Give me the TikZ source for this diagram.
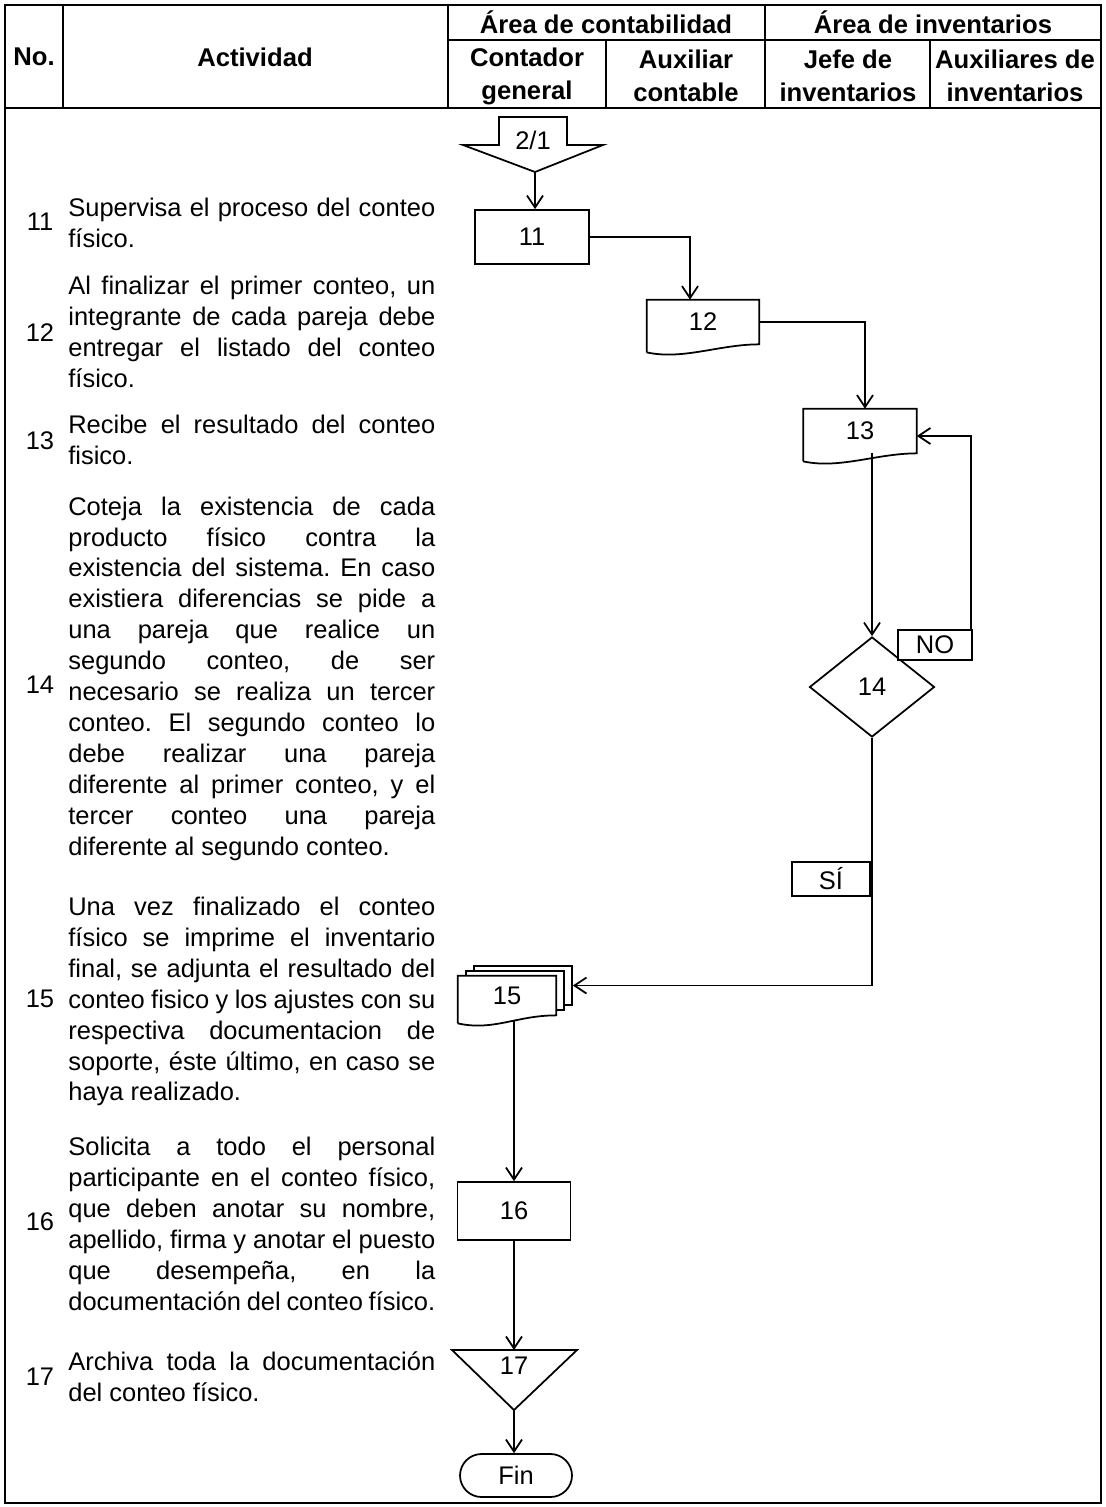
\documentclass[tikz,border=0pt]{standalone}
\usepackage{fontspec}
\setmainfont{Liberation Sans}
\usepackage{tikz}
\usetikzlibrary{arrows.meta, calc, positioning, shapes.geometric}

\newcommand{\cuerpo}{\fontsize{14.5}{17.6}\selectfont\frenchspacing\hyphenpenalty=10000\exhyphenpenalty=10000}
\newcommand{\encab}{\fontsize{14.6}{18.7}\selectfont\bfseries}
% borde de documento con fondo ondulado
\newcommand{\hoja}[1]{\draw[linea] ([yshift=-0.16cm]#1.south west) -- (#1.north west) -- (#1.north east) -- (#1.south east) .. controls +(-40,0) and +(36,8) .. ([yshift=-0.16cm]#1.south west);}

\tikzset{
  linea/.style={line width=1pt},
  flecha/.style={linea, -{Straight Barb[length=2.4mm, width=3.2mm]}},
  caja/.style={draw, linea, minimum width=2.26cm, minimum height=1.1cm, inner sep=0pt, font=\cuerpo},
  doc/.style={minimum width=2.24cm, minimum height=0.88cm, inner sep=0pt, font=\cuerpo},
  etiq/.style={draw, linea, fill=white, inner sep=0pt, font=\cuerpo},
  enc/.style={font=\encab, align=center},
  num/.style={font=\cuerpo},
  desc/.style={font=\cuerpo, text width=7.34cm, align=justify, anchor=west, inner sep=0pt},
}

\begin{document}
\begin{tikzpicture}[x=0.02cm, y=-0.02cm]
\useasboundingbox (0,0) rectangle (1105,1507);

% Marco y encabezado
\draw[line width=1.5pt] (5,5) rectangle (1101,1503);
\draw[linea] (5,108) -- (1101,108);
\draw[linea] (448,40) -- (1101,40);
\draw[linea] (63,5) -- (63,108);
\draw[linea] (448,5) -- (448,108);
\draw[linea] (765,5) -- (765,108);
\draw[linea] (606,40) -- (606,108);
\draw[linea] (930,40) -- (930,108);

\node[enc] (hno) at (34,57) {No.};
\node[enc] (hact) at (255,57) {Actividad};
\node[enc] (hcont) at (606,22) {Área de contabilidad};
\node[enc] (hinv) at (933,22) {Área de inventarios};
\node[enc] (hcg) at (527,76) {Contador\\general};
\node[enc] (hac) at (686,76) {Auxiliar\\contable};
\node[enc] (hji) at (848,76) {Jefe de\\inventarios};
\node[enc] (hai) at (1015,76) {Auxiliares de\\inventarios};

% Actividades
\node[num] (d11n) at (40,222) {11};
\node[desc] (d11) at (68,226) {\strut Supervisa el proceso del conteo\linebreak físico.\strut};
\node[num] (d12n) at (40,333) {12};
\node[desc] (d12) at (68,335) {\strut Al finalizar el primer conteo, un\linebreak integrante de cada pareja debe\linebreak entregar el listado del conteo\linebreak físico.\strut};
\node[num] (d13n) at (40,441) {13};
\node[desc] (d13) at (68,443) {\strut Recibe el resultado del conteo\linebreak fisico.\strut};
\node[num] (d14n) at (40,685) {14};
\node[desc] (d14) at (68,679) {\strut Coteja la existencia de cada\linebreak producto físico contra la\linebreak existencia del sistema. En caso\linebreak existiera diferencias se pide a\linebreak una pareja que realice un\linebreak segundo conteo, de ser\linebreak necesario se realiza un tercer\linebreak conteo. El segundo conteo lo\linebreak debe realizar una pareja\linebreak diferente al primer conteo, y el\linebreak tercer conteo una pareja\linebreak diferente al segundo conteo.\strut};
\node[num] (d15n) at (40,999) {15};
\node[desc] (d15) at (68,1002) {\strut Una vez finalizado el conteo\linebreak físico se imprime el inventario\linebreak final, se adjunta el resultado del\linebreak conteo fisico y los ajustes con su\linebreak respectiva documentacion de\linebreak soporte, éste último, en caso se\linebreak haya realizado.\strut};
\node[num] (d16n) at (40,1222) {16};
\node[desc] (d16) at (68,1227) {\strut Solicita a todo el personal\linebreak participante en el conteo físico,\linebreak que deben anotar su nombre,\linebreak apellido, firma y anotar el puesto\linebreak que desempeña, en la\linebreak documentación del conteo físico.\strut};
\node[num] (d17n) at (40,1377) {17};
\node[desc] (d17) at (68,1380) {\strut Archiva toda la documentación\linebreak del conteo físico.\strut};

% Conector de pagina 2/1
\draw[linea] (499,117) -- (567,117) -- (567,145) -- (603,145) -- (535,172) -- (463,145) -- (499,145) -- cycle;
\node[num] (c21) at (533,140) {2/1};
\coordinate (c21p) at (535,172);

% Simbolos
\node[caja, minimum width=2.28cm, minimum height=1.08cm] (n11) at (532,237) {11};
\node[doc] (n12) at (703,322) {12};
\hoja{n12}
\node[doc, minimum width=2.26cm] (n13) at (860,431) {13};
\hoja{n13}
\node[draw, linea, diamond, minimum width=2.5cm, minimum height=2cm, inner sep=0pt, font=\cuerpo] (n14) at (872,687) {14};
\node[etiq, minimum width=1.48cm, minimum height=0.6cm] (no) at (935,645) {NO};
\node[etiq, minimum width=1.56cm, minimum height=0.68cm] (si) at (831,879) {SÍ};

\node[doc, draw, linea, fill=white, minimum width=1.96cm, minimum height=0.78cm] (n15b) at (523,985.5) {};
\node[doc, draw, linea, fill=white, minimum width=1.96cm, minimum height=0.78cm] (n15m) at (515,990.5) {};
\node[doc, fill=white, minimum width=1.96cm, minimum height=0.78cm] (n15) at (507,995.5) {15};
\hoja{n15}

\node[caja, minimum height=1.16cm] (n16) at (514,1211) {16};

\draw[linea] (452,1350) -- (577,1350) -- (514,1410) -- cycle;
\node[num] (n17) at (514,1366) {17};
\coordinate (t17) at (514,1350);
\coordinate (b17) at (514,1410);

\node[draw, linea, rounded corners=0.43cm, minimum width=2.24cm, minimum height=0.86cm, font=\cuerpo] (fin) at (516,1475.5) {Fin};

% Flujo
\draw[flecha] (c21p) -- (c21p |- n11.north);
\draw[flecha] (n11.east) -| ([xshift=-0.26cm]n12.north);
\draw[flecha] (n12.east) -| ([xshift=0.1cm]n13.north);
\draw[flecha] (n14.north |- n13.south) -- (n14.north);
\draw[flecha] ([xshift=-0.04cm]no.north east) |- ([yshift=-0.1cm]n13.east);
\draw[flecha] (n14.south) |- (n15b.east);
\draw[flecha] ($(n16.north |- n15.south)+(0,6)$) -- (n16.north);
\draw[flecha] (n16.south) -- (t17);
\draw[flecha] (b17) -- (b17 |- fin.north);

\end{tikzpicture}
\end{document}
